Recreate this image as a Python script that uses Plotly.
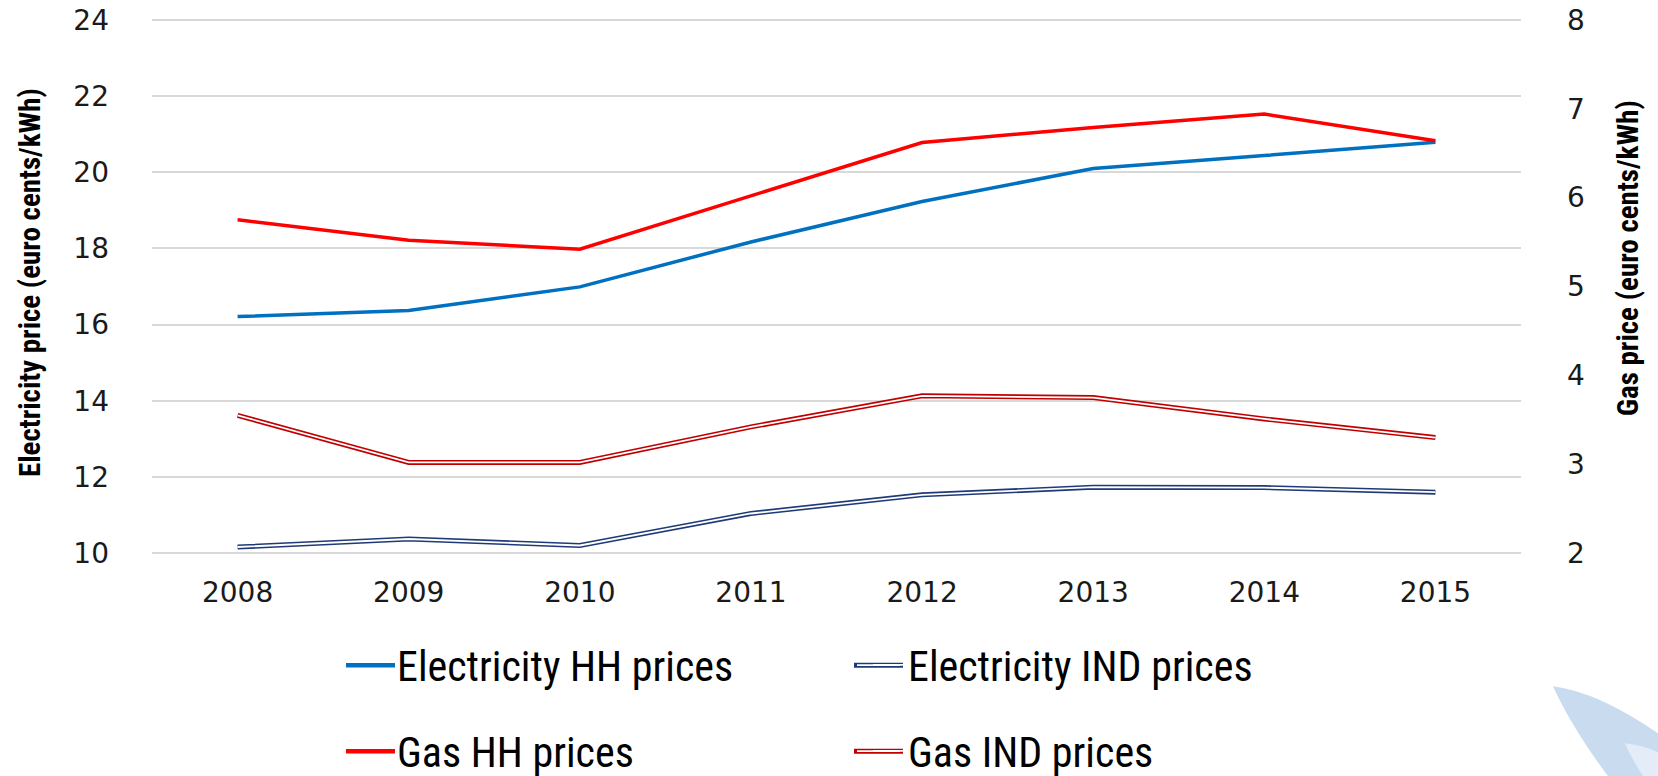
import plotly.graph_objects as go

years = ["2008", "2009", "2010", "2011", "2012", "2013", "2014", "2015"]
elec_hh = [16.21, 16.37, 16.99, 18.17, 19.23, 20.10, 20.44, 20.79]
elec_ind = [10.16, 10.37, 10.20, 11.04, 11.53, 11.73, 11.72, 11.60]
gas_hh = [5.75, 5.52, 5.42, 6.02, 6.62, 6.79, 6.94, 6.64]
gas_ind = [3.55, 3.02, 3.02, 3.42, 3.77, 3.75, 3.51, 3.30]

Y1_MIN, Y1_MAX = 10, 24
Y2_MIN, Y2_MAX = 2, 8
PAD = 0.05  # small range padding so edge gridlines (10 and 24) are drawn

W, H = 1658, 776
unit = (553 - 20) / (Y1_MAX - Y1_MIN)
ML = 152
MT = 20 - PAD * unit
PR = 1521
PB = 553 + PAD * unit
MR, MB = W - PR, H - PB
PW, PH = W - ML - MR, H - MT - MB


def px(x):
    return (x - ML) / PW


def py(y):
    return (H - MB - y) / PH


TICKFONT = dict(family="DejaVu Sans", size=28, color="#1a1a1a")
NARROW = "Liberation Sans Narrow, Roboto Condensed, DejaVu Sans Condensed, Arial Narrow, sans-serif"

C_EHH, C_EIND, C_GHH, C_GIND = "#0070C0", "#1F3A78", "#FF0000", "#C00000"

fig = go.Figure()

# Electricity (left axis)
fig.add_trace(go.Scatter(x=years, y=elec_hh, name="Electricity HH prices", mode="lines",
                         line=dict(color=C_EHH, width=3.5), legend="legend"))
fig.add_trace(go.Scatter(x=years, y=elec_ind, mode="lines", showlegend=False,
                         line=dict(color=C_EIND, width=5), hoverinfo="skip"))
fig.add_trace(go.Scatter(x=years, y=elec_ind, name="Electricity IND prices", mode="lines",
                         line=dict(color="white", width=1.8), legend="legend"))
# Gas (right axis)
fig.add_trace(go.Scatter(x=years, y=gas_hh, name="Gas HH prices", mode="lines", yaxis="y2",
                         line=dict(color=C_GHH, width=3.5), legend="legend2"))
fig.add_trace(go.Scatter(x=years, y=gas_ind, mode="lines", yaxis="y2", showlegend=False,
                         line=dict(color=C_GIND, width=5), hoverinfo="skip"))
fig.add_trace(go.Scatter(x=years, y=gas_ind, name="Gas IND prices", mode="lines", yaxis="y2",
                         line=dict(color="white", width=1.8), legend="legend2"))

leaf = (f"M {px(1553)},{py(686)} Q {px(1600)},{py(692)} {px(1662)},{py(736)} "
        f"L {px(1662)},{py(780)} L {px(1611)},{py(780)} Q {px(1572)},{py(728)} {px(1553)},{py(686)} Z")
inner = (f"M {px(1625)},{py(743)} Q {px(1645)},{py(745)} {px(1662)},{py(754)} "
         f"L {px(1662)},{py(780)} L {px(1646)},{py(780)} Q {px(1632)},{py(760)} {px(1625)},{py(743)} Z")

shapes = [
    dict(type="path", path=leaf, xref="paper", yref="paper", fillcolor="#C9DBEE",
         line=dict(width=0), layer="below"),
    dict(type="path", path=inner, xref="paper", yref="paper", fillcolor="#E4EDF7",
         line=dict(width=0), layer="below"),
]

# longer legend keys (legend symbols sit on top of these)
ROW1, ROW2 = 665, 751
COL1, COL2 = 346, 854
for x0, yy, col, double in [(COL1, ROW1, C_EHH, False), (COL2, ROW1, C_EIND, True),
                            (COL1, ROW2, C_GHH, False), (COL2, ROW2, C_GIND, True)]:
    shapes.append(dict(type="line", xref="paper", yref="paper", x0=px(x0), x1=px(x0 + 49),
                       y0=py(yy), y1=py(yy), line=dict(color=col, width=5 if double else 4.5),
                       layer="above"))
    if double:
        shapes.append(dict(type="line", xref="paper", yref="paper", x0=px(x0 + 3), x1=px(x0 + 46),
                           y0=py(yy), y1=py(yy), line=dict(color="white", width=1.8),
                           layer="above"))

LEGFONT = dict(family=NARROW, size=42, color="black")
y2pad = PAD * (Y2_MAX - Y2_MIN) / (Y1_MAX - Y1_MIN)

fig.update_layout(
    width=W, height=H,
    margin=dict(l=ML, r=MR, t=MT, b=MB, pad=0, autoexpand=False),
    paper_bgcolor="white", plot_bgcolor="white",
    xaxis=dict(type="category", range=[-0.5, 7.5], showgrid=False, showline=False, zeroline=False,
               tickfont=TICKFONT, ticks="", ticklabelstandoff=18, automargin=False),
    yaxis=dict(range=[Y1_MIN - PAD, Y1_MAX + PAD], tickvals=list(range(Y1_MIN, Y1_MAX + 1, 2)),
               showgrid=True, gridcolor="#D9D9D9", gridwidth=1.5,
               zeroline=False, showline=False, ticks="", tickfont=TICKFONT,
               ticklabelstandoff=42, automargin=False, ticklabeloverflow="allow"),
    yaxis2=dict(range=[Y2_MIN - y2pad, Y2_MAX + y2pad], tickvals=list(range(Y2_MIN, Y2_MAX + 1)),
                overlaying="y", side="right", showgrid=False,
                zeroline=False, showline=False, ticks="", tickfont=TICKFONT,
                ticklabelstandoff=45, automargin=False, ticklabeloverflow="allow"),
    legend=dict(orientation="h", x=px(357), y=py(ROW1), xanchor="left", yanchor="middle",
                entrywidth=466, font=LEGFONT, bgcolor="rgba(0,0,0,0)"),
    legend2=dict(orientation="h", x=px(357), y=py(ROW2), xanchor="left", yanchor="middle",
                 entrywidth=466, font=LEGFONT, bgcolor="rgba(0,0,0,0)"),
    annotations=[
        dict(text="Electricity price (euro cents/kWh)", xref="paper", yref="paper",
             x=px(30), y=py(283), xanchor="center", yanchor="middle", textangle=-90, showarrow=False,
             font=dict(family=NARROW, size=29, color="black", weight="bold")),
        dict(text="Gas price (euro cents/kWh)", xref="paper", yref="paper",
             x=px(1628), y=py(258), xanchor="center", yanchor="middle", textangle=-90, showarrow=False,
             font=dict(family=NARROW, size=29, color="black", weight="bold")),
    ],
    shapes=shapes,
    showlegend=True,
)

fig.write_html("out.html", config={"displayModeBar": False},
               post_script="document.body.style.margin='0';")
